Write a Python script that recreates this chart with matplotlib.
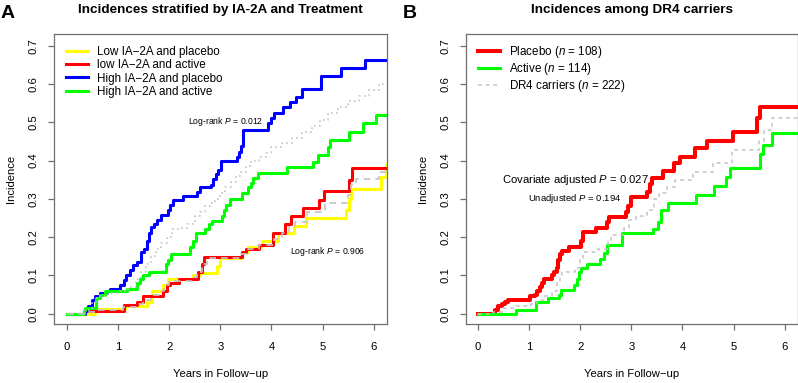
import matplotlib
matplotlib.use("Agg")
import matplotlib.pyplot as plt
from matplotlib.lines import Line2D

plt.rcParams['font.family'] = ['Liberation Sans', 'DejaVu Sans']
plt.rcParams['mathtext.fontset'] = 'custom'
plt.rcParams['mathtext.rm'] = 'Liberation Sans'
plt.rcParams['mathtext.it'] = 'Liberation Sans:italic'

# ---------------- Data: Panel A ----------------
a_low_pla_t = [0.55, 1.14, 1.56, 1.66, 1.89, 1.98, 2.47, 2.60, 2.93, 2.99, 3.42, 3.55, 3.81,
               4.13, 4.44, 4.68, 5.45, 5.52, 5.56, 6.13, 6.23]
a_low_pla_y = [0.013, 0.02, 0.03, 0.06, 0.075, 0.09, 0.10, 0.105, 0.125, 0.145, 0.16, 0.175, 0.19,
               0.21, 0.23, 0.25, 0.27, 0.30, 0.327, 0.358, 0.39]
a_low_pla_end = 6.24

a_low_act_t = [0.33, 1.11, 1.37, 1.50, 1.89, 1.95, 2.02, 2.20, 2.57, 2.64, 2.68, 3.43, 3.51, 3.76,
               4.02, 4.26, 4.38, 4.61, 4.93, 5.02, 5.52, 5.58]
a_low_act_y = [0.008, 0.022, 0.03, 0.045, 0.06, 0.075, 0.08, 0.09, 0.11, 0.13, 0.148, 0.16, 0.17, 0.18,
               0.21, 0.235, 0.255, 0.277, 0.297, 0.32, 0.35, 0.38]
a_low_act_end = 6.3

a_high_pla_t = [0.36, 0.42, 0.49, 0.55, 0.65, 0.78, 0.85, 1.04, 1.11, 1.16, 1.24, 1.30, 1.37, 1.46,
                1.51, 1.56, 1.61, 1.64, 1.70, 1.77, 1.84, 1.97, 2.02, 2.07, 2.28, 2.55, 2.60, 2.81,
                2.86, 2.91, 2.96, 3.01, 3.33, 3.37, 3.41, 3.45, 3.94, 4.00, 4.05, 4.23, 4.37, 4.48,
                4.59, 4.96, 5.35, 5.82]
a_high_pla_y = [0.01, 0.02, 0.035, 0.045, 0.055, 0.06, 0.064, 0.075, 0.088, 0.10, 0.114, 0.127, 0.136,
                0.16, 0.17, 0.19, 0.21, 0.227, 0.235, 0.245, 0.257, 0.27, 0.285, 0.296, 0.307, 0.318,
                0.33, 0.336, 0.352, 0.364, 0.375, 0.40, 0.41, 0.423, 0.439, 0.48, 0.497, 0.51, 0.523,
                0.539, 0.554, 0.567, 0.586, 0.621, 0.641, 0.664]
a_high_pla_end = 6.3

a_high_act_t = [0.33, 0.36, 0.57, 0.65, 0.75, 1.17, 1.37, 1.43, 1.49, 1.61, 1.94, 1.98, 2.03, 2.41,
                2.46, 2.52, 2.70, 2.77, 2.83, 3.03, 3.08, 3.12, 3.18, 3.42, 3.55, 3.59, 3.64, 3.74,
                4.30, 4.82, 4.91, 5.11, 5.14, 5.52, 5.78, 6.04]
a_high_act_y = [0.01, 0.015, 0.04, 0.05, 0.058, 0.065, 0.08, 0.09, 0.10, 0.11, 0.13, 0.14, 0.157, 0.175,
                0.19, 0.21, 0.22, 0.233, 0.243, 0.255, 0.27, 0.285, 0.30, 0.316, 0.332, 0.342, 0.354,
                0.367, 0.382, 0.395, 0.414, 0.436, 0.454, 0.475, 0.497, 0.52]
a_high_act_end = 6.3

a_low_all_t = [0.33, 0.55, 1.10, 1.40, 1.50, 1.65, 1.80, 1.90, 2.00, 2.45, 2.55, 2.65, 2.75, 3.40,
               3.55, 3.75, 4.05, 4.20, 4.35, 4.45, 4.70, 5.05, 5.50, 5.55, 5.65, 6.10]
a_low_all_y = [0.004, 0.01, 0.018, 0.025, 0.035, 0.05, 0.06, 0.075, 0.085, 0.095, 0.11, 0.13, 0.145, 0.155,
               0.17, 0.18, 0.195, 0.21, 0.23, 0.24, 0.265, 0.288, 0.31, 0.335, 0.353, 0.37]
a_low_all_end = 6.3

a_high_all_t = [0.33, 0.50, 0.60, 0.80, 1.00, 1.20, 1.35, 1.45, 1.55, 1.65, 1.75, 1.85, 1.95, 2.05,
                2.20, 2.35, 2.50, 2.60, 2.70, 2.80, 2.90, 3.00, 3.10, 3.20, 3.30, 3.40, 3.50, 3.60,
                3.75, 3.90, 4.00, 4.20, 4.40, 4.60, 4.80, 4.95, 5.10, 5.30, 5.50, 5.70, 5.90, 6.10]
a_high_all_y = [0.01, 0.03, 0.045, 0.055, 0.06, 0.07, 0.09, 0.11, 0.13, 0.15, 0.17, 0.185, 0.20, 0.22,
                0.225, 0.235, 0.255, 0.265, 0.28, 0.29, 0.30, 0.315, 0.33, 0.345, 0.36, 0.37, 0.385, 0.40,
                0.41, 0.42, 0.435, 0.445, 0.46, 0.475, 0.49, 0.505, 0.525, 0.54, 0.555, 0.57, 0.585, 0.60]
a_high_all_end = 6.3

a_labels = ["Low IA\u22122A and placebo", "low IA\u22122A and active",
            "High IA\u22122A and placebo", "High IA\u22122A and active"]

# ---------------- Data: Panel B ----------------
b_pla_t = [0.34, 0.40, 0.47, 0.53, 0.60, 1.02, 1.12, 1.16, 1.22, 1.25, 1.29, 1.46, 1.50, 1.54, 1.57,
           1.61, 1.64, 1.79, 2.02, 2.05, 2.31, 2.52, 2.57, 2.90, 2.94, 3.00, 3.30, 3.36, 3.41, 3.61,
           3.83, 3.95, 4.24, 4.47, 4.98, 5.45, 5.51]
b_pla_y = [0.01, 0.02, 0.025, 0.03, 0.037, 0.045, 0.05, 0.06, 0.07, 0.08, 0.09, 0.10, 0.11, 0.12, 0.14,
           0.155, 0.165, 0.175, 0.19, 0.213, 0.225, 0.24, 0.253, 0.265, 0.28, 0.306, 0.319, 0.34, 0.354,
           0.374, 0.393, 0.41, 0.432, 0.451, 0.475, 0.51, 0.541]
b_pla_end = 6.3

b_act_t = [0.75, 1.14, 1.37, 1.59, 1.62, 1.89, 1.93, 1.97, 2.01, 2.13, 2.39, 2.47, 2.52, 2.81, 3.42,
           3.53, 3.58, 3.72, 4.27, 4.62, 4.85, 4.92, 5.52, 5.57, 5.74]
b_act_y = [0.01, 0.03, 0.04, 0.05, 0.063, 0.075, 0.09, 0.108, 0.12, 0.13, 0.143, 0.158, 0.18, 0.21,
           0.222, 0.24, 0.27, 0.288, 0.31, 0.334, 0.358, 0.38, 0.417, 0.44, 0.471]
b_act_end = 6.3

b_all_t = [0.30, 0.50, 0.75, 1.05, 1.15, 1.30, 1.45, 1.55, 1.60, 1.65, 1.90, 2.00, 2.05, 2.35, 2.55,
           2.60, 2.85, 2.95, 3.10, 3.30, 3.45, 3.55, 3.70, 3.85, 4.20, 4.60, 4.97, 5.50, 5.60, 5.75]
b_all_y = [0.005, 0.015, 0.02, 0.025, 0.035, 0.045, 0.06, 0.08, 0.10, 0.11, 0.12, 0.14, 0.16, 0.17, 0.19,
           0.205, 0.225, 0.245, 0.255, 0.27, 0.30, 0.315, 0.33, 0.35, 0.37, 0.393, 0.428, 0.45, 0.48, 0.51]
b_all_end = 6.3

b_labels = ["Placebo ($n$ = 108)", "Active ($n$ = 114)", "DR4 carriers ($n$ = 222)"]

x_ticks = [0, 1, 2, 3, 4, 5, 6]
y_ticks = [0.0, 0.1, 0.2, 0.3, 0.4, 0.5, 0.6, 0.7]

# ---------------- Layout ----------------
W, H = 798, 383
fig = plt.figure(figsize=(W / 100, H / 100), dpi=100)


def px_axes(l, t, r, b):
    return fig.add_axes([l / W, 1 - b / H, (r - l) / W, (b - t) / H])


def km(ax, t, y, end, **kw):
    xs = [0.0] + list(t) + [end]
    ys = [0.0] + list(y) + [y[-1]]
    ax.step(xs, ys, where='post', **kw)


FRAME = '#6e6e6e'
FS = 8.1


def style(ax, xlim):
    ax.set_xlim(*xlim)
    ax.set_ylim(-0.027, 0.732)
    for s in ax.spines.values():
        s.set_color(FRAME)
        s.set_linewidth(0.9)
    ax.set_xticks(x_ticks)
    ax.set_xticklabels([str(v) for v in x_ticks], fontsize=FS)
    ax.set_yticks(y_ticks)
    ax.set_yticklabels([f"{v:.1f}" for v in y_ticks], fontsize=FS, rotation=90, va='center')
    ax.tick_params(axis='both', direction='out', length=4, width=0.9, color=FRAME)
    ax.tick_params(axis='x', pad=9)
    ax.tick_params(axis='y', pad=7)
    ax.set_xlabel("Years in Follow\u2212up", fontsize=FS, labelpad=12)
    ax.set_ylabel("Incidence", fontsize=FS, labelpad=9)


# Panel A
axA = px_axes(54, 33.5, 387, 324)
style(axA, (-0.248, 6.256))
LW = 2.2
km(axA, a_low_pla_t, a_low_pla_y, a_low_pla_end, color='#ffff00', lw=LW, zorder=3)
km(axA, a_low_act_t, a_low_act_y, a_low_act_end, color='#ff0000', lw=LW, zorder=3)
km(axA, a_high_pla_t, a_high_pla_y, a_high_pla_end, color='#0000ff', lw=LW, zorder=3)
km(axA, a_high_act_t, a_high_act_y, a_high_act_end, color='#00ff00', lw=LW, zorder=3)
km(axA, a_low_all_t, a_low_all_y, a_low_all_end, color='#c4c4c4', lw=1.2,
   linestyle=(0, (4, 3)), zorder=4)
km(axA, a_high_all_t, a_high_all_y, a_high_all_end, color='#c4c4c4', lw=1.2,
   linestyle=(0, (1, 2)), zorder=4)

handlesA = [Line2D([], [], color=c, lw=LW) for c in ['#ffff00', '#ff0000', '#0000ff', '#00ff00']]
axA.legend(handlesA, a_labels, loc='upper left', bbox_to_anchor=(0.035, 0.958), frameon=False,
           fontsize=8.4, handlelength=1.9, handletextpad=0.8, labelspacing=0.12, borderpad=0,
           borderaxespad=0)
axA.text(3.1, 0.501, "Log-rank $P$ = 0.012", fontsize=6.2, ha='center', va='center')
axA.text(5.1, 0.163, "Log-rank $P$ = 0.906", fontsize=6.2, ha='center', va='center')
axA.set_title("Incidences stratified by IA-2A and Treatment", fontsize=9.7, fontweight='bold', pad=14.5)
fig.text(1 / W, 1 - 14 / H, "A", fontsize=14, fontweight='bold', ha='left', va='center')

# Panel B
axB = px_axes(465.7, 33.5, 797.5, 324)
style(axB, (-0.234, 6.246))
km(axB, b_pla_t, b_pla_y, b_pla_end, color='#ff0000', lw=2.9, zorder=3)
km(axB, b_act_t, b_act_y, b_act_end, color='#00ff00', lw=2.2, zorder=3)
km(axB, b_all_t, b_all_y, b_all_end, color='#c4c4c4', lw=1.1, linestyle=(0, (2.5, 2.5)), zorder=4)

handlesB = [Line2D([], [], color='#ff0000', lw=2.9), Line2D([], [], color='#00ff00', lw=2.2),
            Line2D([], [], color='#c4c4c4', lw=1.1, linestyle=(0, (2.5, 2.5)))]
axB.legend(handlesB, b_labels, loc='upper left', bbox_to_anchor=(0.036, 0.965), frameon=False,
           fontsize=8.4, handlelength=1.9, handletextpad=0.8, labelspacing=0.12, borderpad=0,
           borderaxespad=0)
axB.text(1.9, 0.348, "Covariate adjusted $P$ = 0.027", fontsize=8.1, ha='center', va='center')
axB.text(1.9, 0.301, "Unadjusted $P$ = 0.194", fontsize=6.8, ha='center', va='center')
axB.set_title("Incidences among DR4 carriers", fontsize=9.7, fontweight='bold', pad=14.5)
fig.text(403 / W, 1 - 14 / H, "B", fontsize=14, fontweight='bold', ha='left', va='center')

fig.savefig("out.png", dpi=100)
